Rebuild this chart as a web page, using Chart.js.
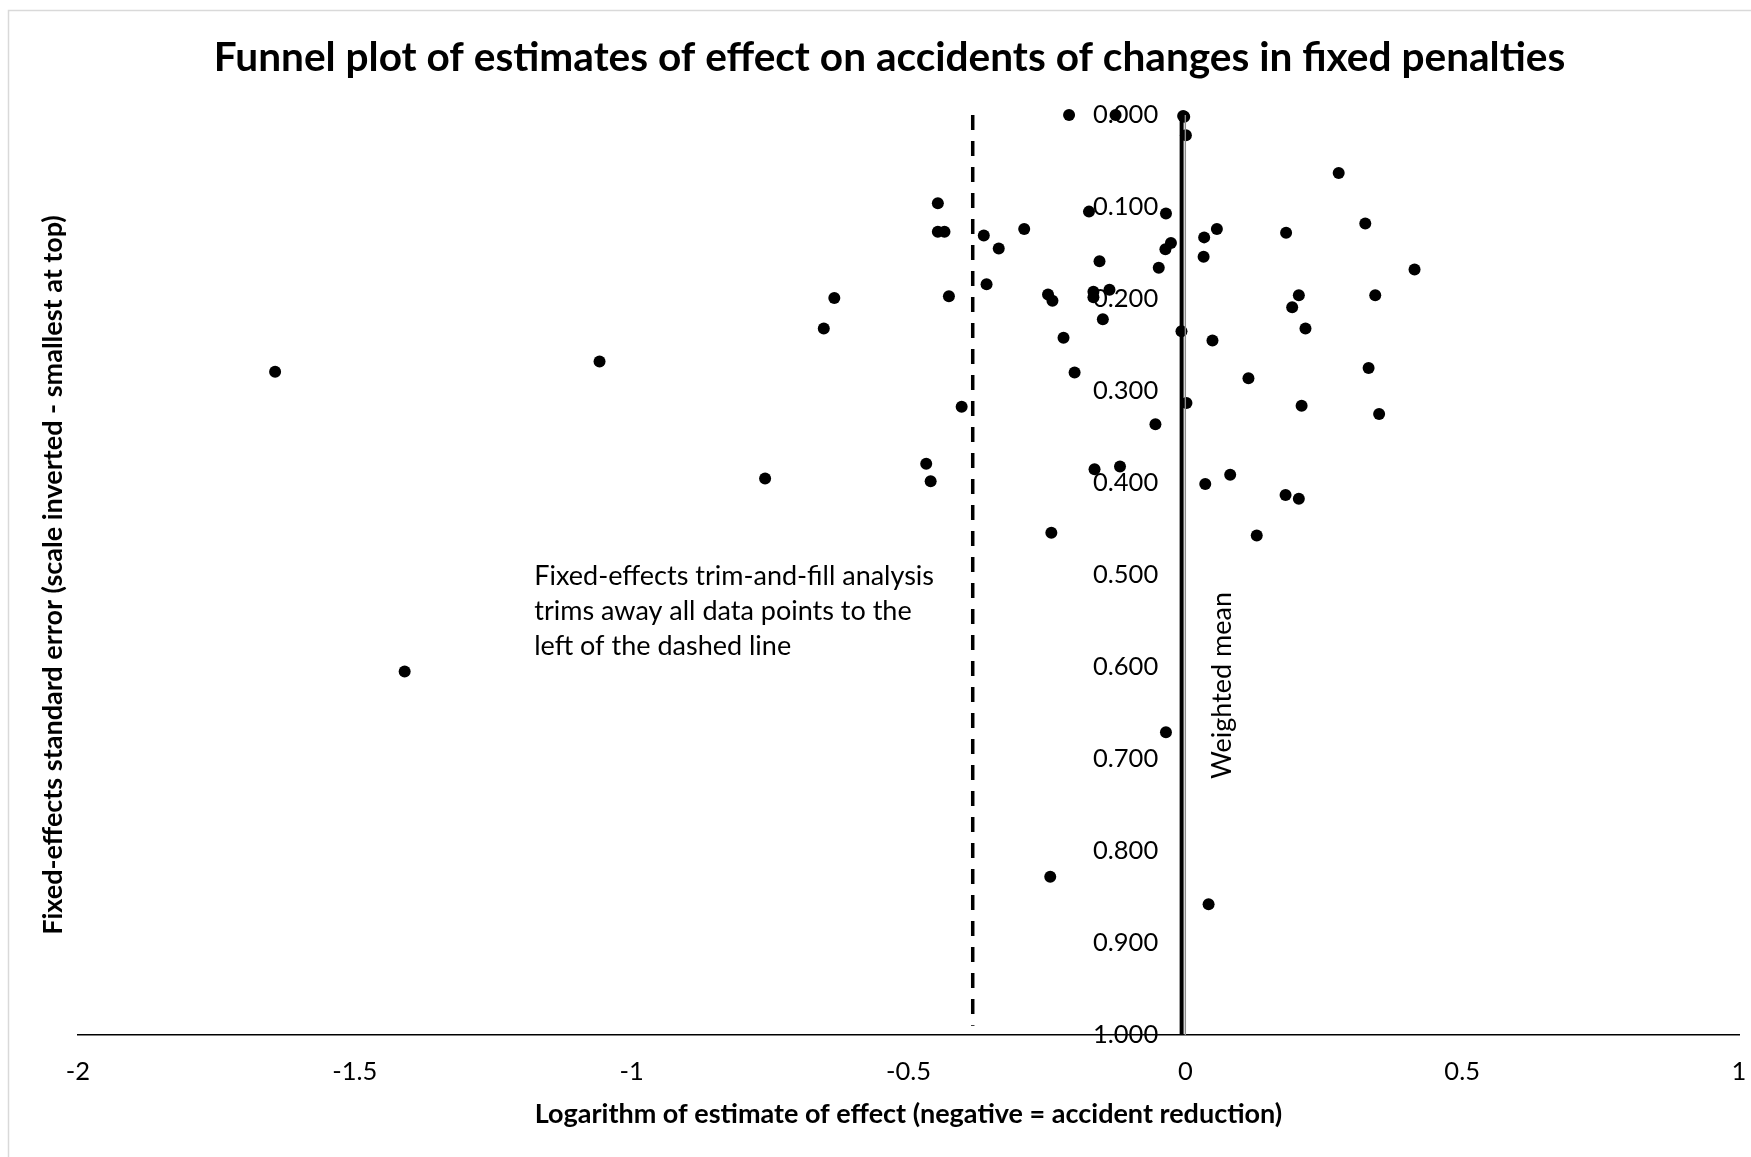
<!DOCTYPE html>
<html>
<head>
<meta charset="utf-8">
<title>Funnel plot</title>
<script src="https://cdn.jsdelivr.net/npm/chart.js@4.4.0/dist/chart.umd.min.js"></script>
<style>
  html, body { margin: 0; padding: 0; background: #fff; }
  canvas { display: block; }
</style>
</head>
<body>
<canvas id="funnel-chart" width="1751" height="1157"></canvas>
<script>
// logarithm of the estimate of effect (negative = accident reduction)
const logEffect = [
    -0.210, -0.126, -0.004, -0.002, 0.001, 0.277, -0.447, -0.174, -0.035, -0.447,
    -0.435, -0.364, -0.291, -0.337, -0.026, -0.036, 0.034, 0.057, 0.182, 0.033,
    -0.155, -0.048, -0.359, -0.427, -0.248, -0.240, -0.166, -0.166, -0.137, -0.149,
    0.205, 0.193, 0.217, -0.007, 0.049, -0.220, -0.200, 0.114, 0.325, 0.414,
    0.343, 0.331, 0.002, 0.210, 0.350, -0.054, 0.081, 0.036, 0.181, 0.205,
    0.129, -0.634, -0.653, -0.404, -0.468, -0.460, -0.759, -0.164, -0.118, -0.242,
    -1.644, -1.058, -1.410, -0.035, -0.244, 0.042
];
// fixed-effects standard error of each estimate
const stdError = [
    0.000, 0.000, 0.001, 0.002, 0.022, 0.063, 0.096, 0.105, 0.107, 0.127,
    0.127, 0.131, 0.124, 0.145, 0.139, 0.146, 0.133, 0.124, 0.128, 0.154,
    0.159, 0.166, 0.184, 0.197, 0.195, 0.202, 0.192, 0.198, 0.190, 0.222,
    0.196, 0.209, 0.232, 0.235, 0.245, 0.242, 0.280, 0.286, 0.118, 0.168,
    0.196, 0.275, 0.313, 0.316, 0.325, 0.336, 0.391, 0.401, 0.413, 0.417,
    0.457, 0.199, 0.232, 0.317, 0.379, 0.398, 0.395, 0.385, 0.382, 0.454,
    0.279, 0.268, 0.605, 0.671, 0.828, 0.858
];

const weightedMean = -0.0067;
const trimLine = -0.384;
const xRange = [-2, 1];
const yRange = [0, 1];

const chartTitle = 'Funnel plot of estimates of effect on accidents of changes in fixed penalties';
const xTitle = 'Logarithm of estimate of effect (negative = accident reduction)';
const yTitle = 'Fixed-effects standard error (scale inverted - smallest at top)';
const noteLines = [
    'Fixed-effects trim-and-fill analysis',
    'trims away all data points to the',
    'left of the dashed line'
];
const meanLabel = 'Weighted mean';

const points = logEffect.map((v, i) => ({x: v, y: stdError[i]}));

Chart.defaults.font.family = 'Lato, "Open Sans", sans-serif';
Chart.defaults.color = '#000';

// frame, annotation text and the label on the weighted mean line
const extras = {
    id: 'extras',
    beforeDraw(chart) {
        const ctx = chart.ctx;
        ctx.save();
        ctx.strokeStyle = '#d9d9d9';
        ctx.lineWidth = 1.5;
        ctx.beginPath();
        ctx.moveTo(8.5, chart.height);
        ctx.lineTo(8.5, 10.5);
        ctx.lineTo(chart.width, 10.5);
        ctx.stroke();
        ctx.restore();
    },
    afterDatasetsDraw(chart) {
        const ctx = chart.ctx;
        const x = chart.scales.x;
        const y = chart.scales.y;
        ctx.save();
        ctx.fillStyle = '#000';
        ctx.font = '27px Lato, "Open Sans", sans-serif';
        ctx.textAlign = 'left';
        ctx.textBaseline = 'middle';
        const left = x.getPixelForValue(-1.176);
        const top = y.getPixelForValue(0.501);
        noteLines.forEach((line, i) => {
            ctx.fillText(line, left, top + i * 35.3);
        });

        ctx.translate(x.getPixelForValue(0.067), y.getPixelForValue(0.62));
        ctx.rotate(-Math.PI / 2);
        ctx.textAlign = 'center';
        ctx.fillText(meanLabel, 0, 0);
        ctx.restore();
    }
};

new Chart(document.getElementById('funnel-chart'), {
    type: 'scatter',
    data: {
        datasets: [{
            label: 'Y axis',
            type: 'line',
            data: [{x: 0, y: yRange[0]}, {x: 0, y: yRange[1]}],
            borderColor: '#8c8c8c',
            borderWidth: 1.4,
            pointRadius: 0
        }, {
            label: 'Trim-and-fill cut-off',
            type: 'line',
            data: [{x: trimLine, y: 0}, {x: trimLine, y: 0.99}],
            borderColor: '#000',
            borderWidth: 3.5,
            borderDash: [15, 11],
            pointRadius: 0
        }, {
            label: 'Weighted mean',
            type: 'line',
            data: [{x: weightedMean, y: 0}, {x: weightedMean, y: 1}],
            borderColor: '#000',
            borderWidth: 4,
            pointRadius: 0
        }, {
            label: 'Estimates',
            data: points,
            backgroundColor: '#000',
            borderWidth: 0,
            pointRadius: 6,
            pointHoverRadius: 6,
            clip: false
        }]
    },
    options: {
        responsive: false,
        animation: false,
        layout: {
            padding: {top: 0, left: 40, right: 12, bottom: 26.8}
        },
        plugins: {
            legend: {display: false},
            tooltip: {enabled: false},
            title: {
                display: true,
                text: chartTitle,
                color: '#000',
                font: {size: 40.6, weight: 'bold'},
                padding: {top: 33.6, bottom: 32.7}
            }
        },
        scales: {
            x: {
                type: 'linear',
                min: xRange[0],
                max: xRange[1],
                ticks: {
                    stepSize: 0.5,
                    padding: 2,
                    color: '#000',
                    font: {size: 25.5, lineHeight: 2.745},
                    callback: v => String(v)
                },
                grid: {display: false, drawTicks: false},
                border: {color: '#000', width: 1.5},
                title: {
                    display: true,
                    text: xTitle,
                    color: '#000',
                    font: {size: 27, weight: 'bold'},
                    padding: {top: -11.2, bottom: 0}
                }
            },
            y: {
                type: 'linear',
                reverse: true,
                min: yRange[0],
                max: yRange[1],
                // labels sit to the left of the zero line, right-aligned
                position: {x: -0.049},
                afterFit: scale => { scale.width = 0; },
                ticks: {
                    stepSize: 0.1,
                    color: '#000',
                    font: {size: 25.5},
                    callback: v => v.toFixed(3)
                },
                grid: {display: false, drawTicks: false},
                border: {display: false}
            },
            yTitleAxis: {
                type: 'linear',
                position: 'left',
                ticks: {display: false},
                grid: {display: false, drawTicks: false},
                border: {display: false},
                title: {
                    display: true,
                    text: yTitle,
                    color: '#000',
                    font: {size: 27, weight: 'bold'},
                    padding: {top: -2.6, bottom: 8.2}
                }
            }
        }
    },
    plugins: [extras]
});
</script>
</body>
</html>
